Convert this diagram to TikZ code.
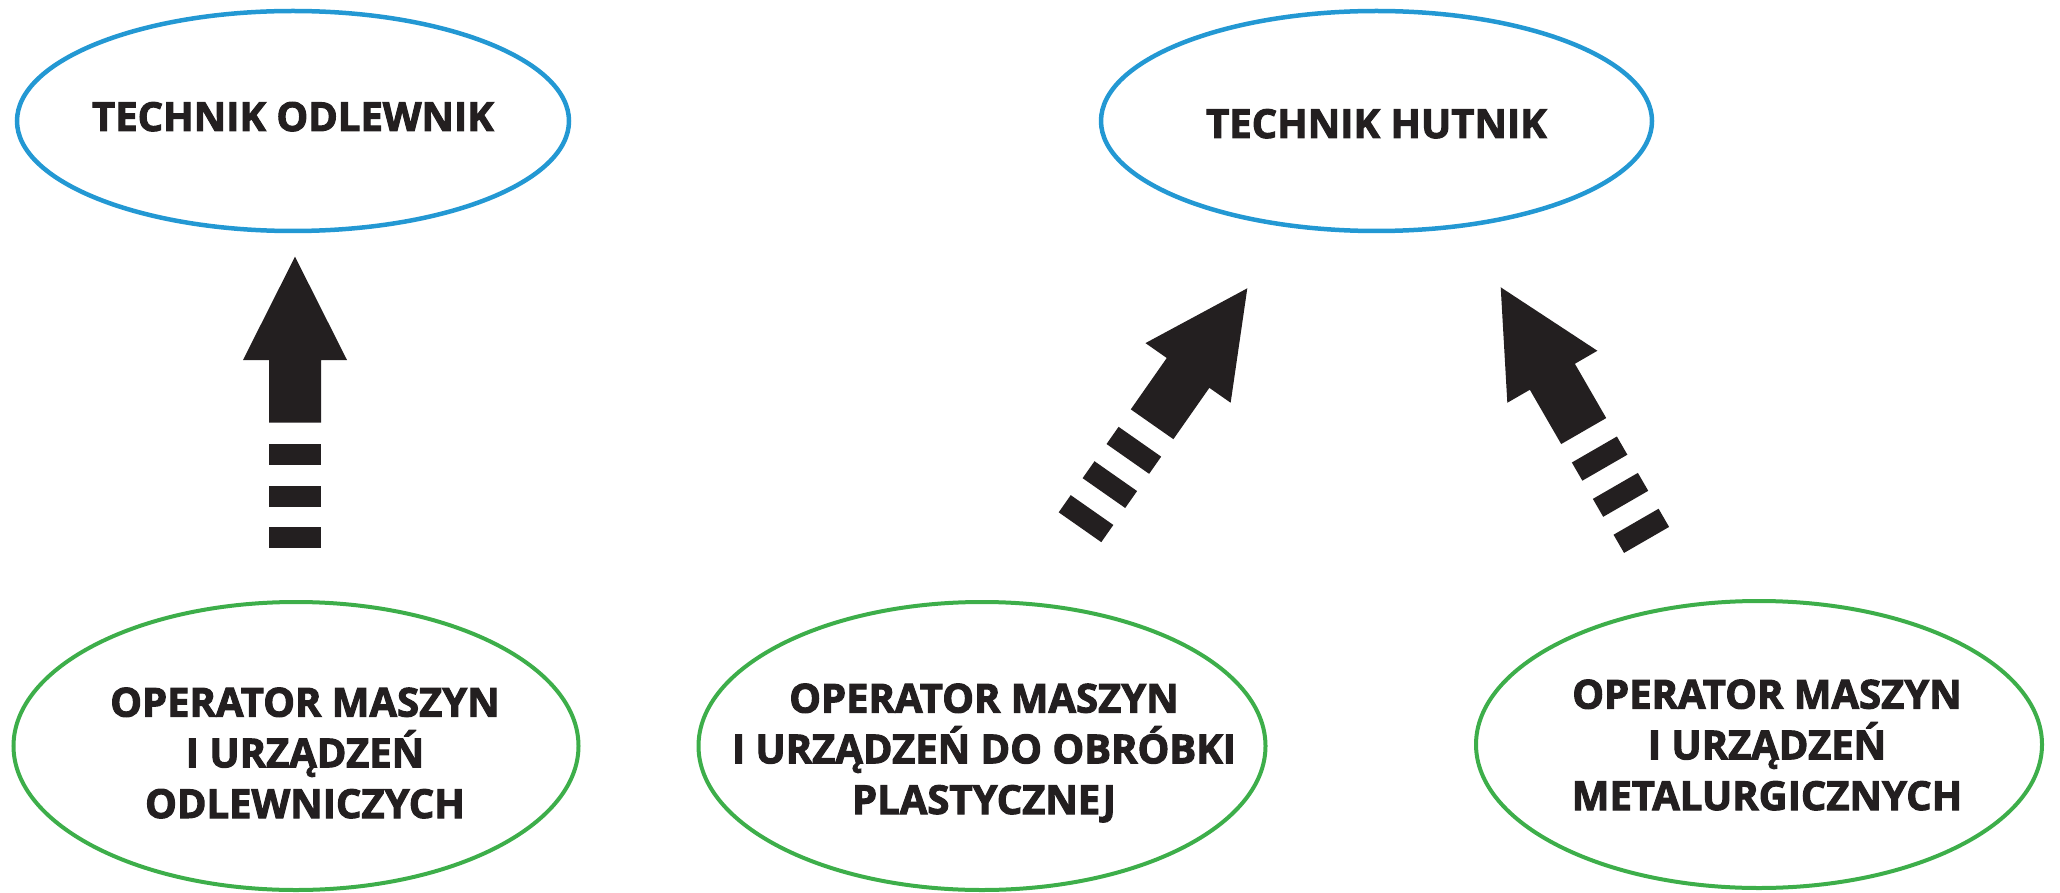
\documentclass[tikz,border=0pt]{standalone}
\usepackage{fontspec}
\setmainfont{Open Sans}[BoldFeatures={FakeBold=2.5}]
\usetikzlibrary{shapes.geometric}
\definecolor{techblue}{HTML}{2398D3}
\definecolor{opgreen}{HTML}{3DAE4A}
\definecolor{inkdark}{HTML}{231F20}
\tikzset{
  techellipse/.style={ellipse, draw=techblue, line width=4.5pt, inner sep=0pt},
  opellipse/.style={ellipse, draw=opgreen, line width=4pt, inner sep=0pt},
  labeltext/.style={text=inkdark, align=center, inner sep=0pt, anchor=base,
    font={\fontsize{40}{50.7}\selectfont\bfseries}},
  blockarrow/.pic={
    \fill[inkdark] (0,0) -- (52,103.3) -- (26,103.3) -- (26,166) -- (-26,166)
      -- (-26,103.3) -- (-52,103.3) -- cycle;
    \fill[inkdark] (-26,187.3) rectangle (26,208.3);
    \fill[inkdark] (-26,229.3) rectangle (26,250);
    \fill[inkdark] (-26,270.7) rectangle (26,291.7);
  }
}
\begin{document}
\begin{tikzpicture}[x=1pt,y=-1pt]
\useasboundingbox (0,0) rectangle (2060,893);
% upper ellipses
\node[techellipse, minimum width=552pt, minimum height=220pt] (todl) at (293,121) {};
\node[techellipse, minimum width=551pt, minimum height=220pt] (thut) at (1376.5,121) {};
% lower ellipses
\node[opellipse, minimum width=565pt, minimum height=288pt] (oodl) at (296,746) {};
\node[opellipse, minimum width=567pt, minimum height=288pt] (oplas) at (982,746) {};
\node[opellipse, minimum width=566pt, minimum height=287pt] (omet) at (1759,744.5) {};
% texts
\node[labeltext] (todltxt) at (293,131) {TECHNIK ODLEWNIK};
\node[labeltext] (thuttxt) at (1376.5,138) {TECHNIK HUTNIK};
\node[labeltext] (oodltxt) at (305,818) {OPERATOR MASZYN\\I URZĄDZEŃ\\ODLEWNICZYCH};
\node[labeltext] (oplastxt) at (984,814) {OPERATOR MASZYN\\I URZĄDZEŃ DO OBRÓBKI\\PLASTYCZNEJ};
\node[labeltext] (omettxt) at (1767,810) {OPERATOR MASZYN\\I URZĄDZEŃ\\METALURGICZNYCH};
% arrows
\coordinate (tip1) at (295,256.7);
\coordinate (tip2) at (1247.3,288.3);
\coordinate (tip3) at (1500.7,287.3);
\pic at (tip1) {blockarrow};
\pic[rotate=-35] at (tip2) {blockarrow};
\pic[rotate=30] at (tip3) {blockarrow};
\end{tikzpicture}
\end{document}
